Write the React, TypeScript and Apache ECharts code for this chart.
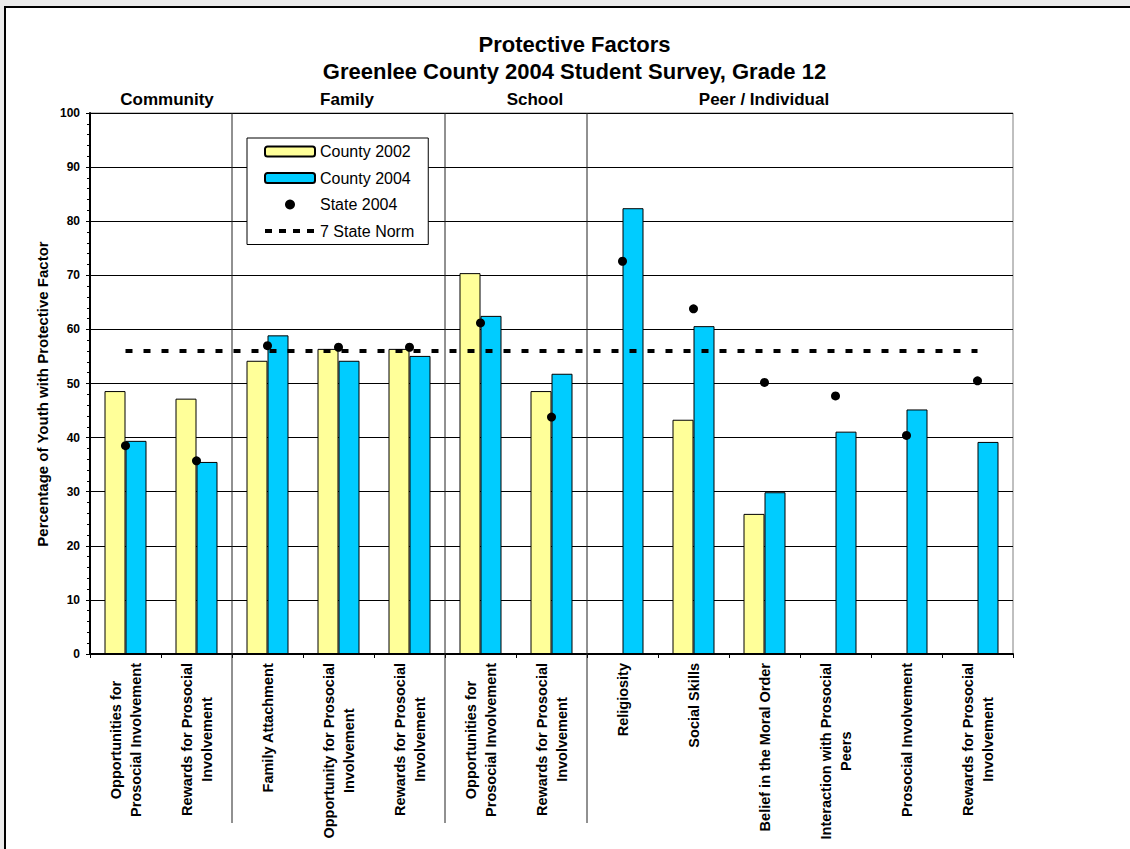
import React, { useEffect, useRef } from 'react';
import * as echarts from 'echarts';

const categories: string[] = [
  'Opportunities for\nProsocial Involvement',
  'Rewards for Prosocial\nInvolvement',
  'Family Attachment',
  'Opportunity for Prosocial\nInvolvement',
  'Rewards for Prosocial\nInvolvement',
  'Opportunities for\nProsocial Involvement',
  'Rewards for Prosocial\nInvolvement',
  'Religiosity',
  'Social Skills',
  'Belief in the Moral Order',
  'Interaction with Prosocial\nPeers',
  'Prosocial Involvement',
  'Rewards for Prosocial\nInvolvement',
];

const county2002: (number | null)[] = [48.6, 47.2, 54.2, 56.4, 56.4, 70.4, 48.6, null, 43.3, 25.9, null, null, null];
const county2004: number[] = [39.4, 35.5, 58.9, 54.2, 55.1, 62.5, 51.8, 82.4, 60.6, 29.9, 41.1, 45.2, 39.2];
const state2004: number[] = [38.5, 35.7, 57.0, 56.7, 56.7, 61.2, 43.8, 72.6, 63.8, 50.2, 47.7, 40.4, 50.5];
const stateNorm: number[] = [56, 56, 56, 56, 56, 56, 56, 56, 56, 56, 56, 56, 56];

const sectionNames: string[] = ['Community', 'Family', 'School', 'Peer / Individual'];
// index of first category after each section boundary
const sectionBreaks: number[] = [2, 5, 7];

const seriesNames = ['County 2002', 'County 2004', 'State 2004', '7 State Norm'];
const titleLines = ['Protective Factors', 'Greenlee County 2004 Student Survey, Grade 12'];
const yAxisTitle = 'Percentage of Youth with Protective Factor';

const FONT = 'Arial, "Liberation Sans", sans-serif';

export default function App() {
  const ref = useRef<HTMLDivElement>(null);

  useEffect(() => {
    if (!ref.current) return;
    const chart = echarts.init(ref.current, undefined, { renderer: 'svg' });

    const headerX = [167, 347, 535, 764];

    const option: any = {
      animation: false,
      backgroundColor: '#ebebeb',
      textStyle: { fontFamily: FONT },
      title: {
        text: titleLines.join('\n'),
        left: 574.5,
        textAlign: 'center',
        top: 30.5,
        padding: 0,
        textStyle: {
          fontFamily: FONT,
          fontSize: 22,
          fontWeight: 'bold',
          color: '#000',
          lineHeight: 27,
        },
      },
      legend: {
        data: [
          seriesNames[0],
          seriesNames[1],
          { name: seriesNames[2], itemStyle: { opacity: 1, color: '#000' } },
          {
            name: seriesNames[3],
            itemStyle: { opacity: 0 },
            lineStyle: { width: 4, color: '#000', type: [7, 7] },
          },
        ],
        orient: 'vertical',
        left: 247,
        top: 138,
        backgroundColor: '#fff',
        borderColor: '#000',
        borderWidth: 1,
        padding: [4.5, 14, 4.5, 16],
        itemWidth: 50,
        itemHeight: 10,
        itemGap: 8.5,
        selectedMode: false,
        textStyle: { fontFamily: FONT, fontSize: 16, color: '#000', lineHeight: 18 },
      },
      grid: {
        left: 90,
        right: 117,
        top: 113,
        bottom: 195,
        show: true,
        borderColor: '#808080',
        borderWidth: 1,
        backgroundColor: '#fff',
      },
      xAxis: {
        type: 'category',
        data: categories,
        boundaryGap: true,
        axisLine: { lineStyle: { color: '#000', width: 2 } },
        axisTick: { show: true, length: 4, lineStyle: { color: '#000', width: 1 } },
        axisLabel: {
          rotate: 90,
          interval: 0,
          margin: 9,
          color: '#000',
          formatter: (v: string) =>
            v
              .split('\n')
              .map((l) => `{c|${l}}`)
              .join('\n'),
          rich: {
            c: {
              align: 'center',
              fontFamily: FONT,
              fontSize: 14.5,
              fontWeight: 'bold',
              color: '#000',
              lineHeight: 20,
            },
          },
        },
      },
      yAxis: {
        type: 'value',
        min: 0,
        max: 100,
        interval: 10,
        axisLine: { show: true, lineStyle: { color: '#000', width: 2 } },
        axisTick: { show: true, length: 4, lineStyle: { color: '#000', width: 1 } },
        minorTick: { show: true, splitNumber: 5, length: 3, lineStyle: { color: '#000', width: 1 } },
        splitLine: { show: true, lineStyle: { color: '#000', width: 1 } },
        axisLabel: {
          margin: 10,
          color: '#000',
          fontFamily: FONT,
          fontSize: 12,
          fontWeight: 'bold',
        },
      },
      series: [
        {
          name: seriesNames[0],
          type: 'bar',
          data: county2002,
          barWidth: 21,
          barGap: '0%',
          itemStyle: { color: '#FFFF99', borderColor: '#000', borderWidth: 1 },
        },
        {
          name: seriesNames[1],
          type: 'bar',
          data: county2004,
          barWidth: 21,
          barGap: '0%',
          itemStyle: { color: '#00CCFF', borderColor: '#000', borderWidth: 1 },
        },
        {
          name: seriesNames[2],
          type: 'scatter',
          data: state2004,
          symbol: 'circle',
          symbolSize: 9,
          itemStyle: { color: '#000', opacity: 1 },
          z: 4,
        },
        {
          name: seriesNames[3],
          type: 'line',
          data: stateNorm,
          symbol: 'none',
          lineStyle: { color: '#000', width: 4, type: [7, 11] },
          itemStyle: { color: '#000' },
          z: 3,
        },
      ],
      graphic: {
        elements: [
          {
            id: 'bgframe',
            type: 'rect',
            z: -100,
            silent: true,
            shape: { x: 5, y: 7, width: 1200, height: 900 },
            style: { fill: '#fff', stroke: '#000', lineWidth: 2 },
          },
          {
            id: 'ytitle',
            type: 'text',
            x: 42,
            y: 394,
            rotation: Math.PI / 2,
            style: {
              text: yAxisTitle,
              fontFamily: FONT,
              fontSize: 15,
              fontWeight: 'bold',
              fill: '#000',
              align: 'center',
              verticalAlign: 'middle',
            },
          },
          ...sectionNames.map((s, i) => ({
            id: 'sec' + i,
            type: 'text',
            x: headerX[i],
            y: 99,
            style: {
              text: s,
              fontFamily: FONT,
              fontSize: 17,
              fontWeight: 'bold',
              fill: '#000',
              align: 'center',
              verticalAlign: 'middle',
            },
          })),
        ],
      },
    };

    chart.setOption(option);

    // Section separators computed from the category axis
    const yTop = chart.convertToPixel({ yAxisIndex: 0 }, 100) as number;
    const seps = sectionBreaks.map((k, i) => {
      const a = chart.convertToPixel({ xAxisIndex: 0 }, k - 1) as number;
      const b = chart.convertToPixel({ xAxisIndex: 0 }, k) as number;
      const x = Math.round((a + b) / 2);
      return {
        id: 'sep' + i,
        type: 'line',
        z: 1,
        silent: true,
        shape: { x1: x, y1: yTop, x2: x, y2: 823 },
        style: { stroke: '#222', lineWidth: 1 },
      };
    });
    chart.setOption({ graphic: { elements: seps } });

    return () => {
      chart.dispose();
    };
  }, []);

  return (
    <div
      ref={ref}
      style={{ position: 'fixed', left: 0, top: 0, width: 1130, height: 849 }}
    />
  );
}
